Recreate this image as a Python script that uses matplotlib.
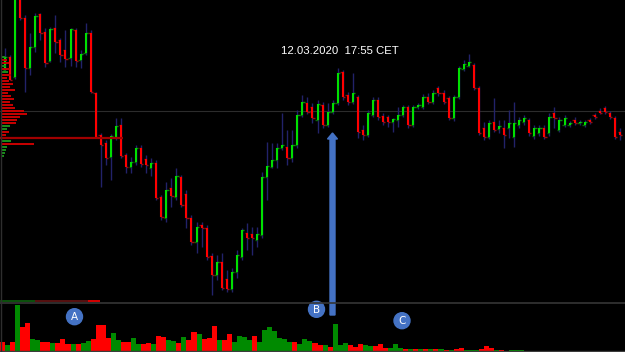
# footprint-style intraday chart with volume pane
import numpy as np
import matplotlib
matplotlib.use('Agg')
import matplotlib.pyplot as plt
from matplotlib.patches import Circle, FancyArrow
from matplotlib.lines import Line2D

# candles (price points)
opens = [230, 243, 223, 303, 282, 232, 253, 286, 268, 239,
         272, 260, 250, 242, 270, 240, 247, 267, 207, 165,
         157, 143, 163, 175, 145, 133, 138, 152, 141, 132,
         137, 103, 82, 112, 103, 123, 106, 82, 58, 75,
         72, 44, 25, 38, 21, 11, 28, 43, 67, 66,
         60, 65, 123, 133, 140, 152, 153, 142, 155, 185,
         197, 193, 180, 195, 175, 188, 197, 228, 205, 198,
         203, 170, 165, 185, 200, 184, 183, 178, 180, 185,
         193, 175, 193, 193, 203, 198, 212, 207, 202, 182,
         203, 231, 234, 235, 212, 172, 163, 178, 171, 172,
         172, 163, 175, 178, 180, 164, 167, 172, 167, 187,
         170, 175, 175, 180, 177, 175, 180, 185, 189, 192,
         187, 182, 168]
closes = [243, 220, 303, 282, 232, 253, 284, 267, 237, 271,
          258, 245, 241, 271, 239, 246, 267, 208, 163, 155,
          142, 164, 174, 144, 133, 138, 152, 136, 135, 137,
          102, 83, 110, 104, 124, 95, 82, 58, 73, 72,
          43, 25, 38, 12, 11, 28, 45, 70, 62, 62,
          66, 123, 134, 140, 152, 155, 142, 155, 185, 198,
          188, 182, 196, 175, 188, 197, 227, 203, 198, 207,
          168, 165, 187, 200, 183, 178, 178, 181, 185, 193,
          175, 193, 195, 203, 198, 207, 207, 198, 182, 203,
          232, 236, 238, 212, 167, 163, 177, 170, 174, 165,
          177, 177, 180, 182, 167, 172, 172, 163, 183, 182,
          180, 182, 177, 177, 178, 178, 178, 183, 187, 188,
          183, 163, 165]
highs = [252, 245, 310, 310, 285, 267, 287, 287, 272, 273,
         285, 262, 270, 272, 272, 250, 277, 270, 208, 167,
         160, 166, 182, 182, 147, 143, 155, 155, 145, 142,
         140, 105, 118, 122, 132, 125, 110, 85, 78, 78,
         75, 47, 45, 47, 30, 32, 50, 72, 77, 73,
         73, 128, 158, 157, 157, 187, 170, 170, 190, 205,
         203, 197, 200, 198, 197, 200, 232, 230, 208, 227,
         205, 175, 190, 203, 203, 187, 185, 182, 193, 195,
         195, 195, 197, 206, 207, 210, 214, 210, 204, 205,
         234, 240, 246, 237, 214, 178, 180, 202, 180, 180,
         190, 198, 183, 185, 182, 175, 175, 175, 187, 193,
         183, 185, 179, 183, 180, 180, 182, 187, 192, 194,
         189, 184, 172]
lows = [228, 220, 221, 280, 208, 225, 248, 260, 233, 238,
        247, 238, 233, 234, 233, 232, 245, 207, 162, 113,
        135, 120, 160, 142, 127, 127, 135, 133, 127, 124,
        100, 80, 78, 93, 100, 93, 72, 55, 47, 53,
        40, 5, 20, 10, 8, 8, 22, 40, 50, 45,
        53, 62, 100, 132, 132, 150, 135, 138, 152, 183,
        186, 177, 167, 172, 173, 186, 195, 200, 195, 196,
        162, 160, 163, 183, 180, 175, 173, 168, 173, 183,
        172, 173, 191, 191, 196, 196, 204, 196, 180, 179,
        201, 229, 233, 210, 165, 160, 161, 168, 167, 152,
        162, 153, 172, 175, 164, 161, 164, 161, 164, 172,
        168, 173, 173, 175, 175, 173, 176, 181, 186, 186,
        181, 161, 160]

# volume pane (starts one bar before the first candle)
volumes = [9, 6, 9, 46, 24, 28, 12, 11, 9, 9,
           8, 8, 12, 7, 7, 7, 8, 10, 12, 26,
           26, 13, 18, 11, 9, 9, 13, 7, 7, 8,
           7, 15, 14, 11, 10, 8, 14, 11, 19, 17,
           12, 13, 25, 11, 11, 17, 9, 15, 14, 11,
           15, 9, 21, 24, 20, 13, 12, 9, 9, 7,
           12, 10, 8, 6, 6, 4, 27, 6, 8, 6,
           4, 7, 6, 5, 5, 7, 3, 3, 7, 3,
           2, 2, 2, 2, 1.5, 2, 2, 2, 0.5, 1.3,
           2, 3.3, 1, 1, 0.5, 1.7, 5, 3.3, 1, 1,
           0.3, 1, 0.7, 0.7, 0.3, 0.3, 0.3, 0.3, 0.3, 0.3,
           0.3, 0.3, 0.3, 0.3, 0.3, 0.3, 0.3, 0.3, 0.3, 0.3,
           0.3, 0.3, 0.3, 0.3]
vol_side = list('rgrgrrggrrgrrrgrggrrrrggrrggrrgrrggrgrrgrrrgrrggggrgggggggrgggrr'
                'grgggrrrggrrrgggrgrgrgrgrgrrgggrrrgrggggrgggrgrrrrrrrrr')

# volume profile at the left edge
prof_levels = [243, 240, 237, 234, 231, 228, 225, 222, 219, 216,
               213, 210, 207, 204, 201, 198, 195, 192, 189, 186,
               183, 180, 177, 174, 171, 168, 165, 162, 159, 156,
               153, 150, 147, 144]
prof_vol = [4, 6, 8, 5, 9, 7, 10, 6, 8, 12,
            9, 14, 7, 10, 13, 9, 12, 14, 23, 26,
            19, 16, 15, 9, 6, 8, 5, 7, 10, 33,
            6, 5, 4, 3]
prof_side = list('grrgrgrrrrrrrrrrrrrrrrrggrrggrgggg')
poc_price = 162
ref_price = 189

# delta strip under the profile
delta_vals = [35, 53, 12]
delta_cols = ['#0c4f0c', '#551010', '#d00000']

stamp = '12.03.2020  17:55 CET'

GREEN, RED, NAVY = '#00e000', '#ff0000', '#22226a'
VGREEN, VRED = '#008a00', '#ff0000'

n = min(len(opens), len(closes), len(highs), len(lows))
o = np.array(opens[:n], float)
c = np.array(closes[:n], float)
h = np.maximum(np.array(highs[:n], float), np.maximum(o, c))
l = np.minimum(np.array(lows[:n], float), np.minimum(o, c))
x = np.arange(n)
up = c >= o

fig = plt.figure(figsize=(6.25, 3.52), dpi=100, facecolor='black')
xlim = (-0.99, 123.0)

ax = fig.add_axes([0, 50 / 352, 1, 302 / 352], facecolor='black')
ax.set_xlim(*xlim)
ax.set_ylim(-2, 300)
ax.axis('off')

ax.axhline(ref_price, color='#2c2c2c', lw=0.8, zorder=1)
ax.vlines(x, l, h, color=NAVY, lw=1.0, zorder=2)
ax.hlines(o, x - 0.45, x, color=np.where(up, '#0a6a0a', '#8a0a0a'), lw=1.0, zorder=2)
ax.hlines(c, x, x + 0.45, color=np.where(up, '#0a8a0a', '#a00a0a'), lw=1.0, zorder=2)
ax.vlines(x, o, c, color=np.where(up, GREEN, RED), lw=1.5, zorder=3)

# profile overlay
axp = fig.add_axes([0, 50 / 352, 1, 302 / 352], facecolor='none')
axp.set_xlim(0, 625)
axp.set_ylim(-2, 300)
axp.axis('off')
axp.barh(prof_levels, prof_vol, height=1.8, left=1,
         color=['#1a8a1a' if s == 'g' else '#c40000' for s in prof_side], zorder=4)
axp.hlines(poc_price, 0, 123, color='#a00000', lw=1.6, zorder=4)
axp.barh(-0.6, delta_vals, left=np.concatenate([[0], np.cumsum(delta_vals)[:-1]]),
         height=2.2, color=delta_cols, zorder=4)

# volume pane
axv = fig.add_axes([0, 1 / 352, 1, 50 / 352], facecolor='black')
axv.set_xlim(*xlim)
axv.set_ylim(0, 49.5)
axv.axis('off')
vx = np.arange(len(volumes)) - 1
axv.bar(vx, volumes, width=1.0, align='edge',
        color=[VGREEN if s == 'g' else VRED for s in vol_side[:len(volumes)]])

# frame lines
fig.add_artist(Line2D([0, 1], [49 / 352, 49 / 352], color='#353535', lw=1.2))
fig.add_artist(Line2D([0, 1], [1.5 / 352, 1.5 / 352], color='#3c3c3c', lw=1.0))
fig.add_artist(Line2D([1.5 / 625, 1.5 / 625], [0, 1], color='#2e2e2e', lw=1.0))

# annotations in pixel space
axo = fig.add_axes([0, 0, 1, 1], facecolor='none')
axo.set_xlim(0, 625)
axo.set_ylim(352, 0)
axo.axis('off')
axo.add_patch(FancyArrow(332.5, 315, 0, -182, width=5, head_width=10, head_length=6,
                         length_includes_head=True, color='#4472c4', zorder=6))
for lab, cx, cy in [('A', 74.5, 316.7), ('B', 316.5, 309.3), ('C', 402, 320.7)]:
    axo.add_patch(Circle((cx, cy), 8, color='#4472c4', zorder=6))
    axo.text(cx, cy + 0.3, lab, color='white', fontsize=7.5, ha='center', va='center',
             family='DejaVu Sans', zorder=7)
axo.text(340, 50.5, stamp, color='white', fontsize=8.2, ha='center', va='center',
         family='Liberation Sans')

fig.savefig('out.png', dpi=100, facecolor='black')
